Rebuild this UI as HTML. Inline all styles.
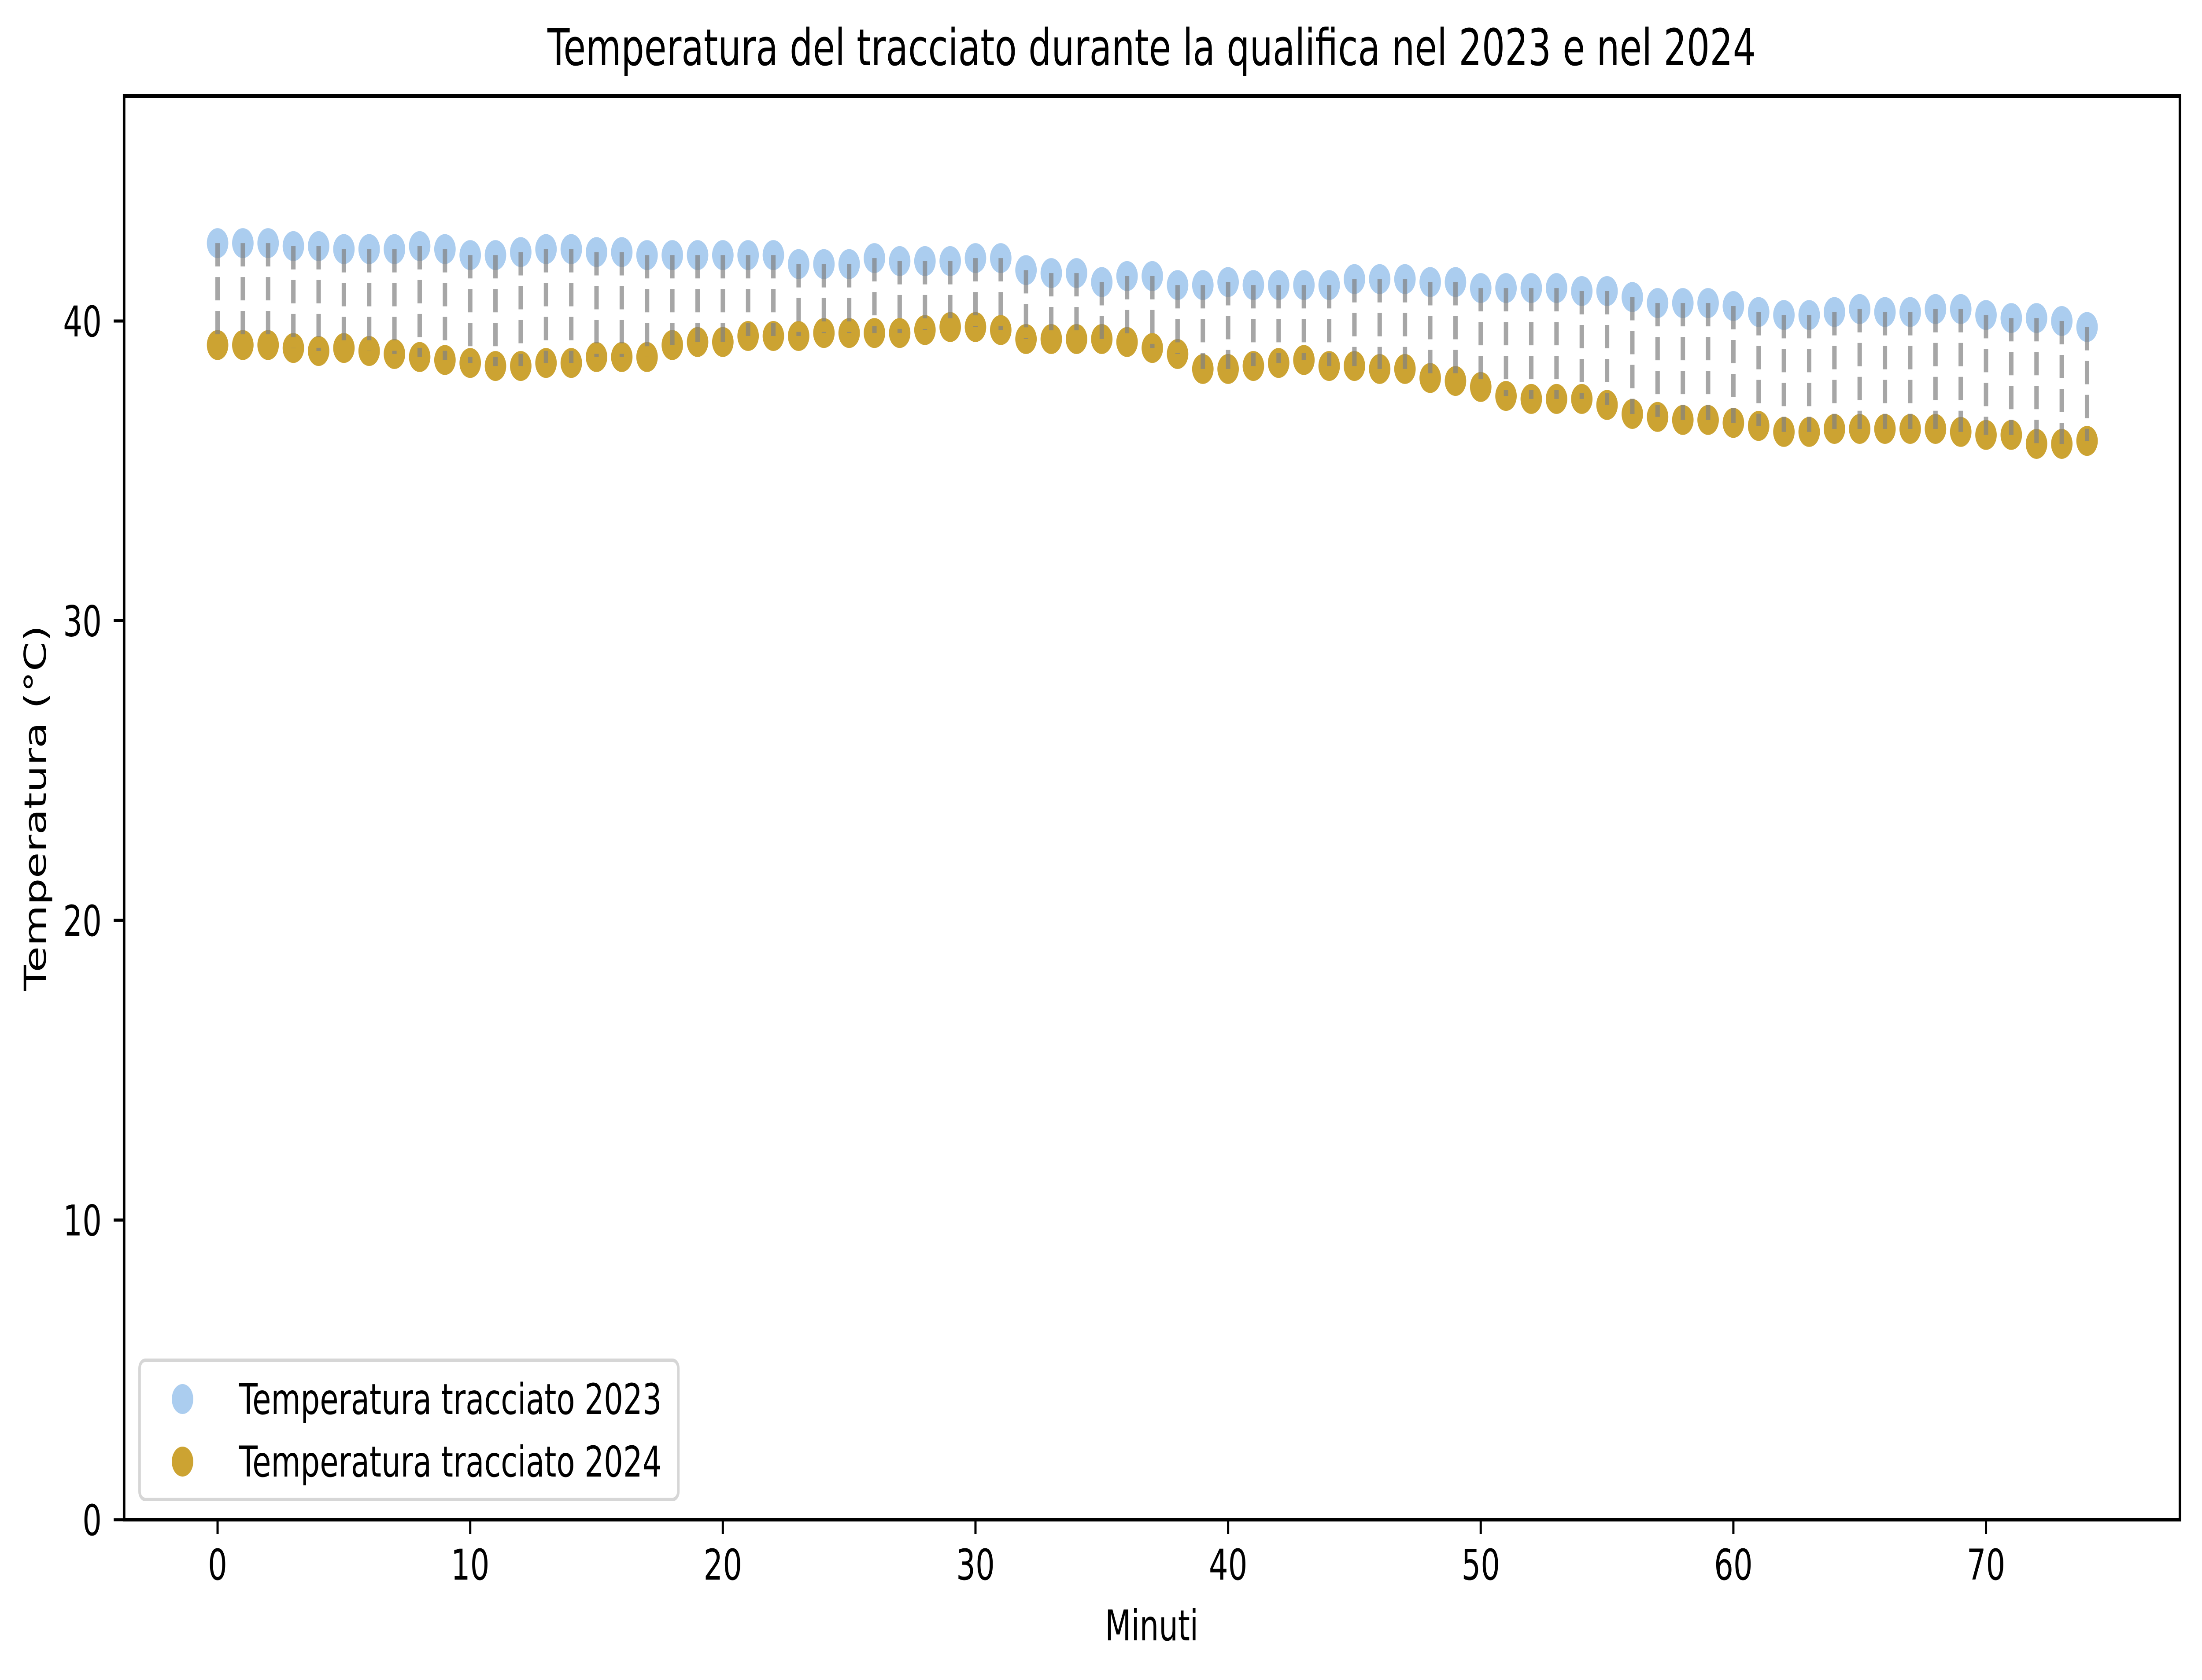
<!DOCTYPE html>
<html><head><meta charset="utf-8"><style>
html,body{margin:0;padding:0;background:#fff;overflow:hidden;width:100%;height:100%;}
svg{display:block;position:absolute;left:0;top:0;width:100vw;height:100vh;font-family:"DejaVu Sans","Liberation Sans",sans-serif;}
</style></head><body>
<svg id="chart" viewBox="0 0 6973 3815" preserveAspectRatio="none" xmlns="http://www.w3.org/2000/svg">
<rect width="6973" height="3815" fill="#fff"/>
<text x="3647" y="148" font-size="115" text-anchor="middle">Temperatura del tracciato durante la qualifica nel 2023 e nel 2024</text>
<g id="pts23"></g>
<g id="pts24"></g>
<g id="lines"></g>
<g id="xticks"></g>
<g id="yticks"></g>
<rect x="393" y="218" width="6510" height="3233" fill="none" stroke="#000" stroke-width="8"/>
<text x="3647" y="3725" font-size="96" text-anchor="middle">Minuti</text>
<text transform="translate(145,1835) rotate(-90)" font-size="96" text-anchor="middle">Temperatura (°C)</text>
<g>
<rect x="442" y="3089" width="1706" height="316" rx="18" fill="#fff" fill-opacity="0.8" stroke="#d6d6d6" stroke-width="8"/>
<circle cx="578" cy="3177" r="34" fill="#abcdef"/>
<text x="757" y="3211" font-size="96">Temperatura tracciato 2023</text>
<circle cx="578" cy="3319" r="34" fill="#cca332"/>
<text x="757" y="3353" font-size="96">Temperatura tracciato 2024</text>
</g>
</svg>
<script>
const minutes = Array.from({length:75},(_,i)=>i);
const temp2023 = [42.6,42.6,42.6,42.5,42.5,42.4,42.4,42.4,42.5,42.4,42.2,42.2,42.3,42.4,42.4,42.3,42.3,42.2,42.2,42.2,42.2,42.2,42.2,41.9,41.9,41.9,42.1,42.0,42.0,42.0,42.1,42.1,41.7,41.6,41.6,41.3,41.5,41.5,41.2,41.2,41.3,41.2,41.2,41.2,41.2,41.4,41.4,41.4,41.3,41.3,41.1,41.1,41.1,41.1,41.0,41.0,40.8,40.6,40.6,40.6,40.5,40.3,40.2,40.2,40.3,40.4,40.3,40.3,40.4,40.4,40.2,40.1,40.1,40.0,39.8];
const temp2024 = [39.2,39.2,39.2,39.1,39.0,39.1,39.0,38.9,38.8,38.7,38.6,38.5,38.5,38.6,38.6,38.8,38.8,38.8,39.2,39.3,39.3,39.5,39.5,39.5,39.6,39.6,39.6,39.6,39.7,39.8,39.8,39.7,39.4,39.4,39.4,39.4,39.3,39.1,38.9,38.4,38.4,38.5,38.6,38.7,38.5,38.5,38.4,38.4,38.1,38.0,37.8,37.5,37.4,37.4,37.4,37.2,36.9,36.8,36.7,36.7,36.6,36.5,36.3,36.3,36.4,36.4,36.4,36.4,36.4,36.3,36.2,36.2,35.9,35.9,36.0];
const xTickVals = [0,10,20,30,40,50,60,70];
const yTickVals = [0,10,20,30,40];

const NS = "http://www.w3.org/2000/svg";
const xs = v => 689 + v*80;
const ys = v => 3451 - v*68.05;
function mk(tag, attrs, parent){const e=document.createElementNS(NS,tag);for(const k in attrs)e.setAttribute(k,attrs[k]);parent.appendChild(e);return e;}

const gL=document.getElementById('pts23'), gG=document.getElementById('pts24'), gLn=document.getElementById('lines');
minutes.forEach((m,i)=>{
  const c1=mk('circle',{cx:xs(m),cy:ys(temp2023[i]),r:34,fill:'#abcdef'},gL);
  
  
  const c2=mk('circle',{cx:xs(m),cy:ys(temp2024[i]),r:34,fill:'#cca332'},gG);
  
  
  const l=mk('line',{x1:xs(m),x2:xs(m),y1:ys(temp2023[i]),y2:ys(temp2024[i]),stroke:'#808080','stroke-opacity':0.7,'stroke-width':14,'stroke-dasharray':'53 24'},gLn);
  
  
});
const gx=document.getElementById('xticks');
xTickVals.forEach(v=>{
  const t=mk('line',{x1:xs(v),x2:xs(v),y1:3451,y2:3484,stroke:'#000','stroke-width':7},gx);
  
  
  const tx=mk('text',{x:xs(v),y:3587,'font-size':96,'text-anchor':'middle'},gx);
  tx.textContent=v;
  
  
});
const gy=document.getElementById('yticks');
yTickVals.forEach(v=>{
  const t=mk('line',{x1:360,x2:393,y1:ys(v),y2:ys(v),stroke:'#000','stroke-width':7},gy);
  
  
  const tx=mk('text',{x:322,y:ys(v)+35,'font-size':96,'text-anchor':'end'},gy);
  tx.textContent=v;
  
  
});
</script>
</body></html>
